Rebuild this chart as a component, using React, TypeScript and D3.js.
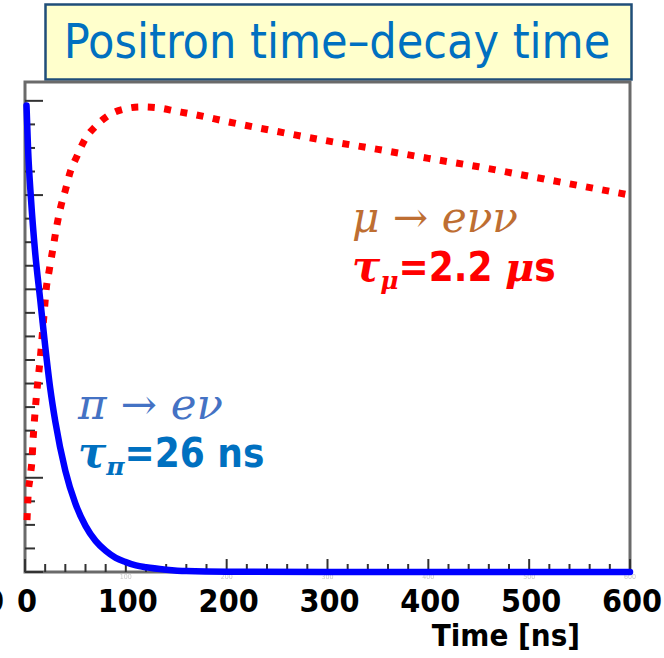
import React from "react";
import * as d3 from "d3";

// Time axis (ns) and tick values
const timeTicks = [0, 100, 200, 300, 400, 500, 600];
const timeMinorTicks = d3.range(0, 601, 20);
const yieldMajorTicks = [0, 0.2, 0.4, 0.6, 0.8, 1.0];
const yieldMinorTicks = d3.range(0, 1.001, 0.05);

// π → eν : positron time spectrum (normalised)
const pionTime = [1.5, 3, 6, 10, 15, 20, 25, 30, 40, 50, 60, 70, 80, 90, 100, 110, 120, 140, 160, 200, 300, 400, 500, 600];
const pionYield = [0.99, 0.9, 0.79, 0.68, 0.58, 0.48, 0.39, 0.32, 0.215, 0.145, 0.098, 0.066, 0.045, 0.03, 0.021, 0.014, 0.01, 0.005, 0.002, 0.0005, 0, 0, 0, 0];

// μ → eνν : positron time spectrum (normalised)
const muonTime = [2, 3, 5, 7, 8, 10, 13, 15, 17, 19, 21, 24, 28, 32, 36, 40, 45, 51, 60, 70, 82, 97, 115, 132, 150, 170, 200, 250, 300, 350, 400, 450, 500, 550, 600];
const muonYield = [0.11, 0.16, 0.2, 0.24, 0.28, 0.34, 0.41, 0.45, 0.5, 0.55, 0.6, 0.64, 0.69, 0.74, 0.78, 0.81, 0.85, 0.88, 0.92, 0.946, 0.968, 0.982, 0.987, 0.985, 0.978, 0.97, 0.956, 0.935, 0.915, 0.897, 0.878, 0.86, 0.84, 0.82, 0.8];

const W = 664;
const H = 658;
const plot = { left: 25, right: 630, top: 82, bottom: 572 };

const sans = "'DejaVu Sans Condensed', 'DejaVu Sans', sans-serif";
const serif = "'DejaVu Serif', 'Liberation Serif', serif";

export default function App() {
  const x = d3.scaleLinear().domain([0, 600]).range([plot.left, plot.right]);
  const y = d3.scaleLinear().domain([0, 1.04]).range([plot.bottom, plot.top]);

  const line = d3
    .line<[number, number]>()
    .x((d) => x(d[0]))
    .y((d) => y(d[1]))
    .curve(d3.curveMonotoneX);

  const pionPath = line(pionTime.map((t, i) => [t, pionYield[i]]) as [number, number][]) || "";
  const muonPath = line(muonTime.map((t, i) => [t, muonYield[i]]) as [number, number][]) || "";

  return (
    <svg
      width={W}
      height={H}
      viewBox={`0 0 ${W} ${H}`}
      style={{ position: "absolute", left: 0, top: 0, background: "#fff" }}
    >
      <defs>
        <filter id="soft" x="-5%" y="-5%" width="110%" height="110%">
          <feGaussianBlur stdDeviation="0.6" />
        </filter>
        <clipPath id="faintClip">
          <rect x={0} y={574} width={W} height={6} />
        </clipPath>
      </defs>

      {/* Title box */}
      <rect x={45.5} y={4.5} width={586} height={75} fill="#FFFFCC" stroke="#1F4E79" strokeWidth={2.5} />
      <text x={337} y={58} textAnchor="middle" fontFamily={sans} fontSize={48} fill="#0070C0">
        Positron time–decay time
      </text>

      {/* Plot frame */}
      <g filter="url(#soft)">
        <rect
          x={plot.left}
          y={plot.top}
          width={plot.right - plot.left}
          height={plot.bottom - plot.top}
          fill="none"
          stroke="#6a6a6a"
          strokeWidth={3}
        />
        {/* Left ticks */}
        {yieldMinorTicks.map((v) => {
          const major = yieldMajorTicks.some((m) => Math.abs(m - v) < 1e-6);
          return (
            <line
              key={`yt${v}`}
              x1={plot.left}
              x2={plot.left + (major ? 18 : 10)}
              y1={y(v)}
              y2={y(v)}
              stroke="#333"
              strokeWidth={2}
            />
          );
        })}
        {/* Bottom ticks */}
        {timeMinorTicks.map((t) => {
          const major = t % 100 === 0;
          return (
            <line
              key={`xt${t}`}
              x1={x(t)}
              x2={x(t)}
              y1={plot.bottom}
              y2={plot.bottom - (major ? 13 : 8)}
              stroke="#333"
              strokeWidth={2}
            />
          );
        })}
        {/* Small grey tick labels just below the axis */}
        <g clipPath="url(#faintClip)">
          {timeTicks.slice(1).map((t) => (
            <text
              key={`ft${t}`}
              x={x(t)}
              y={579}
              textAnchor="middle"
              fontFamily={sans}
              fontSize={7}
              fill="#c8c8c8"
            >
              {t}
            </text>
          ))}
        </g>
      </g>

      {/* Curves */}
      <g filter="url(#soft)">
        <path d={muonPath} fill="none" stroke="#FF0000" strokeWidth={7} strokeDasharray="7 9.5" />
        <path d={pionPath} fill="none" stroke="#0000FF" strokeWidth={6.5} strokeLinecap="round" />
      </g>

      {/* Bold time axis labels */}
      <text x={4} y={612} textAnchor="end" fontFamily={sans} fontWeight="bold" fontSize={32} fill="#000">
        0
      </text>
      {timeTicks.map((t) => (
        <text
          key={`tl${t}`}
          x={x(t) + 2}
          y={612}
          textAnchor="middle"
          fontFamily={sans}
          fontWeight="bold"
          fontSize={32}
          fill="#000"
        >
          {t}
        </text>
      ))}
      <text x={580} y={646} textAnchor="end" fontFamily={sans} fontWeight="bold" fontSize={31} fill="#000">
        Time [ns]
      </text>

      {/* Muon decay annotation */}
      <text
        x={352}
        y={232}
        fontFamily={serif}
        fontStyle="italic"
        fontSize={42}
        fill="#BE6E32"
        textLength={166}
        lengthAdjust="spacingAndGlyphs"
      >
        μ → eνν
      </text>
      <text y={281} fill="#FF0000">
        <tspan x={352} fontFamily={serif} fontStyle="italic" fontWeight="bold" fontSize={42}>τ</tspan>
        <tspan dy={8} fontFamily={serif} fontStyle="italic" fontWeight="bold" fontSize={25}>μ</tspan>
        <tspan dy={-8} fontFamily={sans} fontWeight="bold" fontSize={40}>=2.2 </tspan>
        <tspan fontFamily={serif} fontStyle="italic" fontWeight="bold" fontSize={40}>μ</tspan>
        <tspan fontFamily={sans} fontWeight="bold" fontSize={40}>s</tspan>
      </text>

      {/* Pion decay annotation */}
      <text
        x={78}
        y={419}
        fontFamily={serif}
        fontStyle="italic"
        fontSize={42}
        fill="#4472C4"
        textLength={145}
        lengthAdjust="spacingAndGlyphs"
      >
        π → eν
      </text>
      <text y={467} fill="#0070C0">
        <tspan x={78} fontFamily={serif} fontStyle="italic" fontWeight="bold" fontSize={42}>τ</tspan>
        <tspan dy={8} fontFamily={serif} fontStyle="italic" fontWeight="bold" fontSize={25}>π</tspan>
        <tspan dy={-8} fontFamily={sans} fontWeight="bold" fontSize={40}>=26 ns</tspan>
      </text>
    </svg>
  );
}
